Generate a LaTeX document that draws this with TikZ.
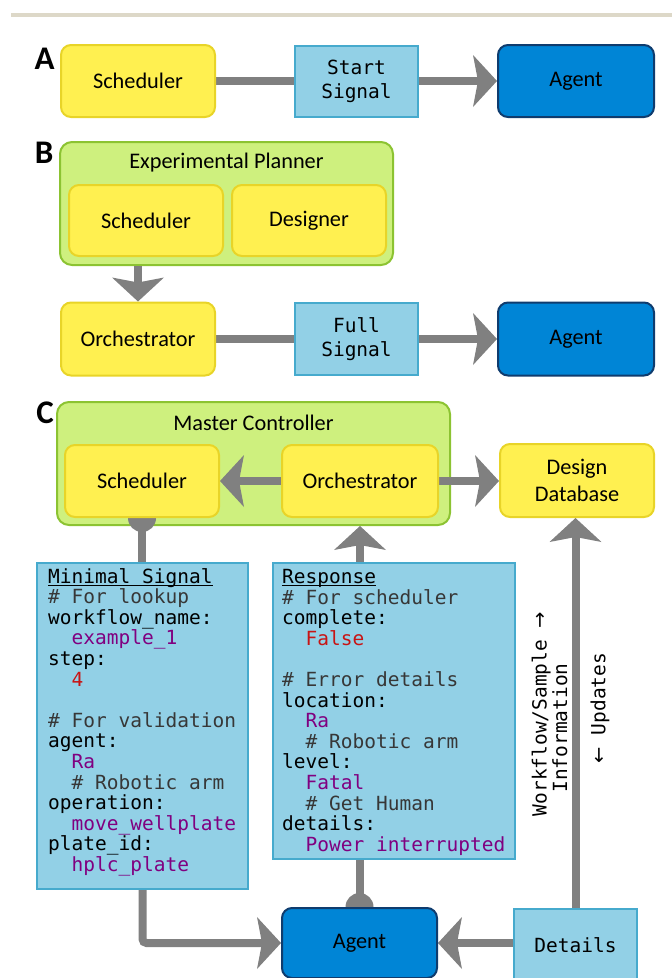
\documentclass[tikz,border=0pt]{standalone}
\usepackage{fontspec}
\setmainfont{Carlito}
\newfontfamily\codefont{DejaVu Sans Mono}
\newfontfamily\arrfont{DejaVu Sans}
\usetikzlibrary{arrows.meta}
\definecolor{ylw}{RGB}{255,240,80}
\definecolor{ylwd}{RGB}{232,212,40}
\definecolor{grn}{RGB}{206,240,126}
\definecolor{grnd}{RGB}{140,195,50}
\definecolor{lblue}{RGB}{146,208,230}
\definecolor{lblued}{RGB}{70,170,205}
\definecolor{dblue}{RGB}{0,133,214}
\definecolor{dblued}{RGB}{15,60,110}
\definecolor{arrg}{RGB}{128,128,128}
\definecolor{cpurp}{RGB}{128,0,128}
\definecolor{cred}{RGB}{200,20,20}
\definecolor{ccom}{RGB}{55,55,55}
\definecolor{topl}{RGB}{221,216,200}
\newcommand\lblf{\fontsize{22.3}{27.7}\selectfont}
\newcommand\cdef{\codefont\fontsize{19.5}{20.6}\selectfont}
\newcommand\sigf{\codefont\fontsize{19.5}{24}\selectfont}
\newcommand\cind{\phantom{xx}}
\newcommand\myul[1]{\setbox0\hbox{#1}\rlap{\rule[-3pt]{\wd0}{1.3pt}}\box0}
\newcommand\cpu[1]{{\color{cpurp}#1}}
\newcommand\cre[1]{{\color{cred}#1}}
\newcommand\cco[1]{{\color{ccom}#1}}
\pgfdeclarelayer{bg}
\pgfdeclarelayer{mid}
\pgfsetlayers{bg,mid,main}
\begin{document}
\begin{tikzpicture}[x=1pt,y=-1pt,
  ybox/.style={draw=ylwd, fill=ylw, line width=2pt, rounded corners=10pt, font=\lblf, inner sep=0pt, align=center},
  gbox/.style={draw=grnd, fill=grn, line width=2pt, rounded corners=12pt, inner sep=0pt},
  sbox/.style={draw=lblued, fill=lblue, line width=2pt, font=\sigf, inner sep=0pt, align=center},
  abox/.style={draw=dblued, fill=dblue, line width=2pt, rounded corners=10pt, font=\lblf, inner sep=0pt},
  cbox/.style={draw=lblued, fill=lblue, line width=2pt, inner sep=0pt},
  cdtext/.style={font=\cdef, inner sep=0pt, align=left},
  letter/.style={font=\fontsize{33}{33}\selectfont\bfseries, inner sep=0pt},
  conn/.style={draw=arrg, line width=8pt},
  arr/.style={conn, -{Stealth[length=24pt,width=52pt,inset=5pt,line width=0pt]}},
  knob/.style={fill=arrg}
]
\useasboundingbox (0,0) rectangle (672,978);
\draw[topl, line width=4pt] (11,15) -- (672,15);

% ---------- A ----------
\node[letter] (labA) at (44.5,58.5) {A};
\node[ybox, minimum width=154pt, minimum height=72pt] (schedA) at (138,81) {Scheduler};
\node[sbox, minimum width=123pt, minimum height=71pt] (startA) at (356.5,81) {Start\\Signal};
\node[abox, minimum width=156pt, minimum height=72pt] (agentA) at (576,81) {Agent};

% ---------- B ----------
\node[letter] (labB) at (44,153) {B};
\begin{pgfonlayer}{bg}
\node[gbox, minimum width=333pt, minimum height=123pt] (planner) at (226.5,203.5) {};
\end{pgfonlayer}
\node[font=\lblf, inner sep=0pt] (planlbl) at (226.5,163) {Experimental Planner};
\node[ybox, minimum width=154pt, minimum height=71pt] (schedB) at (146,220.5) {Scheduler};
\node[ybox, minimum width=154pt, minimum height=71pt] (desB) at (309,220.5) {Designer};
\node[ybox, minimum width=154pt, minimum height=73pt] (orchB) at (138,339) {Orchestrator};
\node[sbox, minimum width=123pt, minimum height=72pt] (fullB) at (356.5,339) {Full\\Signal};
\node[abox, minimum width=156pt, minimum height=73pt] (agentB) at (576,339) {Agent};

% ---------- C ----------
\node[letter] (labC) at (45,413) {C};
\begin{pgfonlayer}{bg}
\node[gbox, minimum width=393pt, minimum height=123pt] (mc) at (253.5,463.5) {};
\end{pgfonlayer}
\node[font=\lblf, inner sep=0pt] (mclbl) at (253.5,423) {Master Controller};
\node[ybox, minimum width=154pt, minimum height=72pt] (schedC) at (142,481) {Scheduler};
\node[ybox, minimum width=156pt, minimum height=72pt] (orchC) at (360,481) {Orchestrator};
\node[ybox, minimum width=154pt, minimum height=73pt] (ddb) at (577,480.5) {Design\\Database};

\node[cbox, minimum width=211pt, minimum height=326pt] (ms) at (142.5,726) {};
\node[cdtext, anchor=north west] (mstxt) at (48,568) {\myul{Minimal Signal}\\
\cco{\# For lookup}\\
workflow\_name:\\
\cind\cpu{example\_1}\\
step:\\
\cind\cre{4}\\
\mbox{}\\
\cco{\# For validation}\\
agent:\\
\cind\cpu{Ra}\\
\cind\cco{\# Robotic arm}\\
operation:\\
\cind\cpu{move\_wellplate}\\
plate\_id:\\
\cind\cpu{hplc\_plate}};

\node[cbox, minimum width=242pt, minimum height=296pt] (resp) at (394,711) {};
\node[cdtext, anchor=north west] (resptxt) at (282,569) {\myul{Response}\\
\cco{\# For scheduler}\\
complete:\\
\cind\cre{False}\\
\mbox{}\\
\cco{\# Error details}\\
location:\\
\cind\cpu{Ra}\\
\cind\cco{\# Robotic arm}\\
level:\\
\cind\cpu{Fatal}\\
\cind\cco{\# Get Human}\\
details:\\
\cind\cpu{Power interrupted}};

\node[cdtext, rotate=90, align=center] (wf) at (549.5,728) {Workflow/Sample\rlap{\ {\arrfont →}}\\Information};
\node[cdtext, rotate=90] (upd) at (600,708) {{\arrfont ←} Updates};

\node[abox, minimum width=155pt, minimum height=70pt] (agentC) at (359.5,943) {Agent};
\node[sbox, minimum width=123pt, minimum height=72pt] (det) at (575.5,945) {Details};

% ---------- connectors ----------
\begin{pgfonlayer}{mid}
\draw[conn] (schedA.east) -- (startA.west);
\draw[arr] (startA.east) -- (agentA.west);

\draw[arr] (orchB |- planner.south) -- (orchB.north);
\draw[conn] (orchB.east) -- (fullB.west);
\draw[arr] (fullB.east) -- (agentB.west);

\draw[arr] (orchC.west) -- (schedC.east);
\draw[arr] (orchC.east) -- (orchC.east -| ddb.west);
\fill[knob] (schedC.south) circle (14pt);
\draw[conn] (schedC.south |- ms.north) -- (schedC.south);
\draw[arr] (orchC |- resp.north) -- (orchC |- mc.south);
\fill[knob] (agentC.north) circle (14pt);
\draw[conn] (agentC.north) -- (agentC.north |- resp.south);
\draw[arr, rounded corners=4pt] (ms.south) |- (agentC.west);
\draw[arr] (det.west |- agentC.east) -- (agentC.east);
\draw[arr] (det.north) -- (det.north |- ddb.south);
\end{pgfonlayer}
\end{tikzpicture}
\end{document}
